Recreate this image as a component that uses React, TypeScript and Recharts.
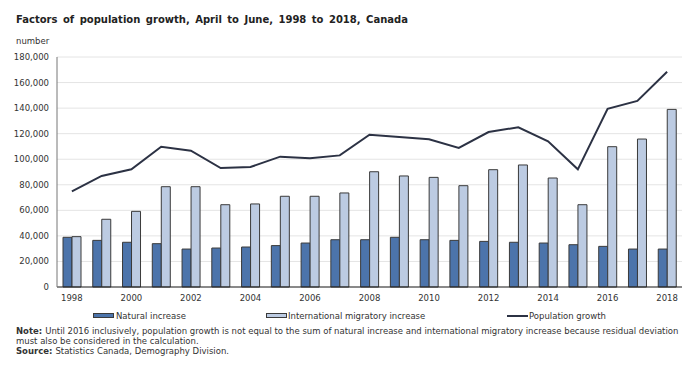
import { Bar, CartesianGrid, ComposedChart, Line, XAxis, YAxis } from "recharts";

const years = [
  "1998", "1999", "2000", "2001", "2002", "2003", "2004", "2005", "2006", "2007", "2008",
  "2009", "2010", "2011", "2012", "2013", "2014", "2015", "2016", "2017", "2018",
];
const naturalIncrease = [
  38900, 36500, 35000, 33900, 29700, 30500, 31300, 32400, 34400, 37000, 37000,
  38900, 37000, 36500, 35700, 35000, 34400, 33100, 31800, 29700, 29700,
];
const migratoryIncrease = [
  39400, 53000, 59200, 78500, 78500, 64400, 65000, 71000, 71000, 73600, 90200,
  86900, 85800, 79300, 91800, 95500, 85300, 64400, 109800, 115800, 139000,
];
const populationGrowth = [
  74900, 86900, 92100, 109800, 106700, 93100, 93900, 102000, 100700, 103000, 119200,
  117400, 115600, 108800, 121300, 125000, 114000, 92100, 139500, 145600, 168500,
];
const yTicks = [0, 20000, 40000, 60000, 80000, 100000, 120000, 140000, 160000, 180000];

const data = years.map((year, i) => ({
  year,
  natural: naturalIncrease[i],
  migratory: migratoryIncrease[i],
  growth: populationGrowth[i],
}));

const FONT = "'DejaVu Sans', Verdana, sans-serif";
const NATURAL = "#4c74ab";
const MIGRATORY = "#bccbe2";
const LINE = "#2c3244";
const BORDER = "#3a3a3a";

const tickStyle = { fill: "#333", fontSize: 8.5, fontFamily: FONT };

// one line of the footnote, label in bold then the text
function NoteLine({ label, text, top }: { label?: string; text: string; top: number }) {
  return (
    <div style={{ position: "absolute", left: 8, top, height: 10, lineHeight: "10px", whiteSpace: "nowrap", display: "flex" }}>
      {label && <b style={{ marginRight: 3 }}>{label}</b>}
      <span>{text}</span>
    </div>
  );
}

export default function App() {
  return (
    <div style={{ position: "relative", width: 685, height: 351, fontFamily: FONT, color: "#222" }}>
      <div
        style={{
          position: "absolute",
          left: 8,
          top: 5,
          lineHeight: "14px",
          fontSize: 10,
          fontWeight: "bold",
          wordSpacing: 2,
          whiteSpace: "nowrap",
        }}
      >
        Factors of population growth, April to June, 1998 to 2018, Canada
      </div>
      <div style={{ position: "absolute", left: 8, top: 27, lineHeight: "12px", fontSize: 8.5, color: "#333" }}>
        number
      </div>

      <div style={{ position: "absolute", left: 0, top: 0 }}>
        <ComposedChart
          width={685}
          height={320}
          data={data}
          barGap={0}
          margin={{ top: 49, right: 11, bottom: 21, left: 0 }}
        >
          <CartesianGrid vertical={false} stroke="#e4e4e4" />
          <XAxis
            dataKey="year"
            interval={1}
            tick={tickStyle}
            tickLine={false}
            axisLine={{ stroke: "#222" }}
            height={20}
          />
          <XAxis xAxisId="top" dataKey="year" orientation="top" height={0} tick={false} tickLine={false} axisLine={{ stroke: "#777" }} />
          <YAxis
            domain={[0, 180000]}
            ticks={yTicks}
            tickFormatter={(v: number) => v.toLocaleString("en-US")}
            tick={tickStyle}
            tickLine={false}
            axisLine={{ stroke: "#777" }}
            width={49}
          />
          <YAxis
            yAxisId="right"
            orientation="right"
            domain={[0, 180000]}
            tick={false}
            tickLine={false}
            axisLine={{ stroke: "#777" }}
            width={0}
          />
          <Bar dataKey="natural" fill={NATURAL} stroke={BORDER} strokeWidth={1} barSize={9} isAnimationActive={false} />
          <Bar dataKey="migratory" fill={MIGRATORY} stroke={BORDER} strokeWidth={1} barSize={9} isAnimationActive={false} />
          <Line
            dataKey="growth"
            type="linear"
            stroke={LINE}
            strokeWidth={2}
            dot={false}
            activeDot={false}
            isAnimationActive={false}
          />
        </ComposedChart>
      </div>

      <div style={{ position: "absolute", left: 0, top: 302, width: 685, height: 12, fontSize: 8.5, lineHeight: "12px", color: "#333" }}>
        <span style={{ position: "absolute", left: 85, top: 3, width: 21, height: 5, background: NATURAL, border: `1px solid ${BORDER}`, boxSizing: "border-box" }} />
        <span style={{ position: "absolute", left: 108, top: 0, whiteSpace: "nowrap" }}>Natural increase</span>
        <span style={{ position: "absolute", left: 258, top: 3, width: 21, height: 5, background: MIGRATORY, border: `1px solid ${BORDER}`, boxSizing: "border-box" }} />
        <span style={{ position: "absolute", left: 280, top: 0, whiteSpace: "nowrap" }}>International migratory increase</span>
        <span style={{ position: "absolute", left: 499, top: 5, width: 21, height: 2, background: LINE }} />
        <span style={{ position: "absolute", left: 521, top: 0, whiteSpace: "nowrap" }}>Population growth</span>
      </div>

      <div style={{ position: "absolute", left: 0, top: 318, width: 685, height: 30, fontSize: 8.5, color: "#333" }}>
        <NoteLine
          top={0}
          label="Note:"
          text="Until 2016 inclusively, population growth is not equal to the sum of natural increase and international migratory increase because residual deviation"
        />
        <NoteLine top={10} text="must also be considered in the calculation." />
        <NoteLine top={20} label="Source:" text="Statistics Canada, Demography Division." />
      </div>
    </div>
  );
}
